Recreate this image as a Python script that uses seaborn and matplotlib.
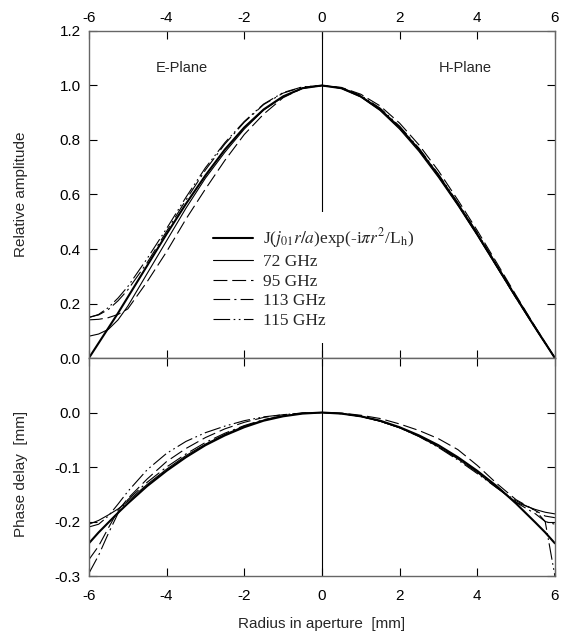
import numpy as np
import pandas as pd
import matplotlib
matplotlib.use("Agg")
import matplotlib.pyplot as plt
import seaborn as sns

# radius positions (mm)
radius = [-6, -5.75, -5.5, -5.25, -5, -4.5, -4, -3.5, -3, -2.5, -2, -1.5, -1, -0.5, 0,
          0.5, 1, 1.5, 2, 2.5, 3, 3.5, 4, 4.5, 5, 5.5, 5.75, 6]

# relative amplitude
amp_theory = [0.0, 0.055, 0.110, 0.165, 0.223, 0.339, 0.455, 0.566, 0.670, 0.765, 0.846, 0.912, 0.960, 0.990, 1.0,
              0.990, 0.960, 0.912, 0.846, 0.765, 0.670, 0.566, 0.455, 0.339, 0.223, 0.110, 0.055, 0.0]
amp_72 = [0.080, 0.088, 0.105, 0.140, 0.190, 0.310, 0.430, 0.550, 0.660, 0.755, 0.840, 0.910, 0.958, 0.990, 1.0,
          0.990, 0.958, 0.908, 0.840, 0.758, 0.663, 0.560, 0.450, 0.335, 0.220, 0.108, 0.054, 0.0]
amp_95 = [0.140, 0.142, 0.148, 0.160, 0.180, 0.280, 0.390, 0.510, 0.620, 0.725, 0.820, 0.895, 0.955, 0.990, 1.0,
          0.993, 0.968, 0.925, 0.862, 0.782, 0.687, 0.580, 0.468, 0.350, 0.230, 0.113, 0.057, 0.0]
amp_113 = [0.150, 0.158, 0.178, 0.210, 0.250, 0.350, 0.465, 0.580, 0.690, 0.785, 0.865, 0.930, 0.972, 0.994, 1.0,
           0.990, 0.960, 0.912, 0.845, 0.763, 0.668, 0.563, 0.452, 0.337, 0.220, 0.108, 0.054, 0.0]
amp_115 = [0.148, 0.160, 0.185, 0.220, 0.262, 0.365, 0.475, 0.590, 0.698, 0.790, 0.868, 0.932, 0.974, 0.995, 1.0,
           0.992, 0.964, 0.917, 0.851, 0.770, 0.675, 0.570, 0.460, 0.343, 0.226, 0.112, 0.056, 0.0]

# phase delay (mm)
ph_theory = [-0.240, -0.220, -0.202, -0.184, -0.167, -0.135, -0.107, -0.082, -0.060, -0.042, -0.027, -0.015, -0.007, -0.002, 0.0,
             -0.002, -0.007, -0.015, -0.027, -0.042, -0.060, -0.082, -0.107, -0.135, -0.167, -0.202, -0.220, -0.240]
ph_72 = [-0.205, -0.198, -0.188, -0.177, -0.163, -0.132, -0.104, -0.079, -0.058, -0.040, -0.025, -0.014, -0.006, -0.0015, 0.0,
         -0.002, -0.007, -0.016, -0.028, -0.044, -0.063, -0.085, -0.110, -0.138, -0.165, -0.178, -0.183, -0.186]
ph_95 = [-0.270, -0.245, -0.212, -0.180, -0.158, -0.122, -0.090, -0.066, -0.046, -0.030, -0.018, -0.009, -0.004, -0.001, 0.0,
         -0.001, -0.005, -0.011, -0.021, -0.033, -0.048, -0.068, -0.097, -0.130, -0.160, -0.180, -0.190, -0.193]
ph_113 = [-0.295, -0.262, -0.222, -0.185, -0.160, -0.128, -0.100, -0.076, -0.055, -0.038, -0.024, -0.013, -0.006, -0.0015, 0.0,
          -0.002, -0.007, -0.016, -0.028, -0.043, -0.062, -0.084, -0.108, -0.136, -0.165, -0.186, -0.200, -0.205]
ph_115 = [-0.210, -0.205, -0.190, -0.168, -0.145, -0.105, -0.075, -0.053, -0.037, -0.025, -0.015, -0.008, -0.004, -0.001, 0.0,
          -0.002, -0.007, -0.016, -0.028, -0.044, -0.064, -0.087, -0.112, -0.138, -0.162, -0.180, -0.200, -0.300]

labels = [r'J($j_{01}r/a$)exp(-i$\pi r^{2}$/L$_{\mathrm{h}}$)', '72 GHz', '95 GHz', '113 GHz', '115 GHz']
amp_series = [amp_theory, amp_72, amp_95, amp_113, amp_115]
ph_series = [ph_theory, ph_72, ph_95, ph_113, ph_115]
styles = ['-', '-', (0, (10, 3.5)), (0, (12, 3, 1.5, 3)), (0, (12, 2.5, 1.2, 2.5, 1.2, 2.5))]
widths = [1.5, 0.8, 0.8, 0.8, 0.8]

sns.set_style("ticks")
plt.rcParams['font.family'] = ['Liberation Sans', 'DejaVu Sans']
plt.rcParams['mathtext.fontset'] = 'stix'
plt.rcParams['axes.unicode_minus'] = False
plt.rcParams['lines.scale_dashes'] = False

fig = plt.figure(figsize=(5.7, 6.4), dpi=100)
ax1 = fig.add_axes([0.156, 0.4406, 0.8175, 0.511])
ax2 = fig.add_axes([0.156, 0.100, 0.8175, 0.3406])

for vals, lab, ls, lw in zip(amp_series, labels, styles, widths):
    sns.lineplot(x=radius, y=vals, ax=ax1, color='k', lw=lw, linestyle=ls, label=lab)
for vals, ls, lw in zip(ph_series, styles, widths):
    sns.lineplot(x=radius, y=vals, ax=ax2, color='k', lw=lw, linestyle=ls)

for ax in (ax1, ax2):
    ax.axvline(0, color='k', lw=0.8, zorder=1)
    ax.set_xlim(-6, 6)
    ax.set_xticks([-6, -4, -2, 0, 2, 4, 6])
    ax.tick_params(direction='in', length=6, width=0.8, top=True, right=True,
                   labelsize=11, colors='k')
    ax.tick_params(axis='y', pad=6)
    for sp in ax.spines.values():
        sp.set_color('0.4')
        sp.set_linewidth(1.0)

ax1.set_ylim(0, 1.2)
ax1.set_yticks([0.0, 0.2, 0.4, 0.6, 0.8, 1.0, 1.2])
ax1.set_yticklabels(['0.0', '0.2', '0.4', '0.6', '0.8', '1.0', '1.2'])
ax1.tick_params(axis='x', labeltop=True, labelbottom=False, pad=4)
ax1.set_ylabel('Relative amplitude', fontsize=11)
ax1.yaxis.set_label_coords(-0.13, 0.5)

ax2.set_ylim(-0.3, 0.1)
ax2.set_yticks([-0.3, -0.2, -0.1, 0.0])
ax2.set_yticklabels(['-0.3', '-0.2', '-0.1', '0.0'])
ax2.tick_params(axis='x', pad=9)
ax2.set_ylabel('Phase delay  [mm]', fontsize=11)
ax2.yaxis.set_label_coords(-0.13, 0.47)
ax2.set_xlabel('Radius in aperture  [mm]', fontsize=11)
ax2.xaxis.set_label_coords(0.5, -0.19)

ax1.text(-3.6, 1.065, 'E-Plane', ha='center', va='center', fontsize=10.5)
ax1.text(3.7, 1.065, 'H-Plane', ha='center', va='center', fontsize=10.5)

leg = ax1.legend(loc='upper left', bbox_to_anchor=(0.236, 0.445), frameon=True,
                 facecolor='white', edgecolor='none', framealpha=1, fancybox=False,
                 borderpad=0.8, borderaxespad=0, handlelength=2.3, handletextpad=0.58,
                 labelspacing=0.2, prop={'family': 'Liberation Serif', 'size': 12.5})

fig.savefig('out.png', dpi=100)
